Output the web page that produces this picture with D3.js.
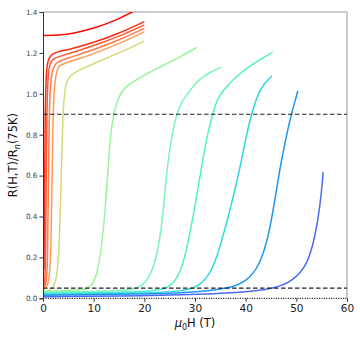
<!DOCTYPE html>
<html><head><meta charset="utf-8">
<script src="https://cdn.jsdelivr.net/npm/d3@7"></script>
<style>body{margin:0;background:#fff}svg{display:block}text{font-family:"DejaVu Sans",sans-serif}</style>
</head><body><svg id="c" width="360" height="340"></svg>
<script>
// ---- data ----
const xTicks = [0, 10, 20, 30, 40, 50, 60];
const yTicks = [0.0, 0.2, 0.4, 0.6, 0.8, 1.0, 1.2, 1.4];
const refLines = [0.9, 0.05];
const curveColors = ["#ff0a00", "#ff2a14", "#ff5530", "#ff7a48", "#ff9a58", "#d6d878",
                     "#98f59a", "#7af5b8", "#50f0c8", "#2ed8e0", "#1e96f0", "#4a6cf5"];
const c0 = [[0,1.285],[3,1.287],[6,1.295],[10,1.32],[14,1.355],[17.6,1.40],[20,1.43]];
const c1 = [[0.2,0.14],[0.3,0.5],[0.4,0.85],[0.55,1.05],[0.8,1.15],[1.4,1.2],[5,1.215],[10,1.25],[15,1.295],[20,1.353]];
const c2 = [[0,0.05],[0.3,0.06],[0.5,0.15],[0.6,0.5],[0.75,0.9],[0.95,1.08],[1.3,1.15],[2.0,1.175],[5,1.195],[10,1.235],[15,1.28],[20,1.337]];
const c3 = [[0,0.05],[0.6,0.06],[0.9,0.15],[1.05,0.5],[1.2,0.9],[1.5,1.07],[2.0,1.13],[2.6,1.155],[5,1.175],[10,1.215],[15,1.263],[20,1.32]];
const c4 = [[0,0.045],[1.0,0.055],[1.5,0.15],[1.75,0.5],[1.95,0.9],[2.3,1.06],[2.8,1.12],[3.2,1.14],[5,1.155],[10,1.195],[15,1.245],[20,1.303]];
const c5 = [[0,0.03],[1.5,0.035],[2.8,0.08],[3.3,0.3],[3.6,0.6],[3.9,0.9],[4.3,1.03],[5,1.09],[8,1.125],[12,1.17],[16,1.21],[20,1.258]];
const c6 = [[0,0.035],[4,0.037],[8,0.042],[9.2,0.05],[10.5,0.1],[11.3,0.2],[12.2,0.4],[12.75,0.6],[13.3,0.8],[13.9,0.9],[15.1,1.0],[16.6,1.043],[19.9,1.09],[23,1.13],[27.1,1.18],[30.3,1.227]];
const c7 = [[0,0.03],[10,0.033],[16,0.038],[19.2,0.05],[21,0.1],[22.5,0.2],[23.7,0.4],[24.3,0.6],[25.5,0.81],[26.4,0.9],[27.3,0.96],[29.1,1.02],[31,1.076],[33,1.105],[35.1,1.13]];
const c8 = [[0,0.025],[15,0.028],[22,0.035],[25,0.05],[27.1,0.12],[28.5,0.25],[30,0.45],[31.2,0.627],[32.4,0.8],[33.5,0.9],[34.3,0.97],[35.6,1.02],[38.3,1.09],[41.6,1.15],[45.3,1.203]];
const c9 = [[0,0.02],[20,0.025],[28,0.035],[31,0.06],[33.6,0.14],[35.5,0.3],[37.3,0.47],[38.8,0.627],[40,0.78],[41.1,0.9],[42.9,1.035],[45.2,1.087]];
const c10 = [[0,0.015],[20,0.02],[30,0.028],[37,0.05],[40,0.08],[42.7,0.155],[44.5,0.3],[45.7,0.47],[46.7,0.627],[47.9,0.78],[49,0.9],[50.3,1.014]];
const c11 = [[0,0.008],[20,0.012],[35,0.022],[42,0.035],[45.8,0.05],[49,0.08],[52.1,0.155],[53.7,0.3],[54.7,0.45],[55.3,0.617]];
const curves = [c0,c1,c2,c3,c4,c5,c6,c7,c8,c9,c10,c11];

// ---- layout ----
const L = 43, R = 347, T = 12, B = 298.3;
const svg = d3.select("#c");
const x = d3.scaleLinear().domain([0, 60]).range([L, R]);
const y = d3.scaleLinear().domain([0, 1.4]).range([B, T]);

svg.append("defs").append("clipPath").attr("id","clip")
  .append("rect").attr("x",L).attr("y",T).attr("width",R-L).attr("height",B-T);

// spines
svg.append("line").attr("x1",L).attr("x2",R).attr("y1",T).attr("y2",T).attr("stroke","#999").attr("stroke-width",1);
svg.append("line").attr("x1",R).attr("x2",R).attr("y1",T).attr("y2",B).attr("stroke","#999").attr("stroke-width",1);

const line = d3.line().x(d => x(d[0])).y(d => y(d[1])).curve(d3.curveBasis);
const g = svg.append("g").attr("clip-path","url(#clip)");
curves.forEach((c,i) => {
  g.append("path").attr("d", line(c)).attr("fill","none")
   .attr("stroke", curveColors[i]).attr("stroke-width",1.5).attr("stroke-linejoin","round");
});

// reference dashed lines
refLines.forEach(v => {
  svg.append("line").attr("x1",L).attr("x2",R).attr("y1",y(v)).attr("y2",y(v))
    .attr("stroke","#222").attr("stroke-width",1.2).attr("stroke-dasharray","4.5,2.5");
});
// dotted zero line
svg.append("line").attr("x1",L).attr("x2",R).attr("y1",y(0)).attr("y2",y(0))
  .attr("stroke","#333").attr("stroke-width",1.2).attr("stroke-dasharray","1.2,1.2");

// axes
const ya = svg.append("g").attr("transform",`translate(${L},0)`)
  .call(d3.axisLeft(y).tickValues(yTicks).tickFormat(d3.format(".1f")).tickSize(3.5).tickPadding(2));
ya.select(".domain").attr("stroke","#333");
ya.selectAll("line").attr("stroke","#333");
ya.selectAll("text").attr("font-size","7.3px").attr("fill","#444").attr("font-family","DejaVu Sans");

const xa = svg.append("g").attr("transform",`translate(0,${B})`)
  .call(d3.axisBottom(x).tickValues(xTicks).tickFormat(d3.format("d")).tickSize(3.5).tickPadding(2.5));
xa.select(".domain").remove();
xa.selectAll("line").attr("stroke","#333");
xa.selectAll("text").attr("font-size","10.5px").attr("fill","#222").attr("font-family","DejaVu Sans");

// axis labels
const xl = svg.append("text").attr("x",(L+R)/2).attr("y",327).attr("text-anchor","middle")
  .attr("font-size","11.5px").attr("fill","#111");
xl.append("tspan").attr("font-style","italic").text("μ");
xl.append("tspan").attr("font-size","8px").attr("dy","2.5").text("0");
xl.append("tspan").attr("dy","-2.5").text("H (T)");

const yl = svg.append("text").attr("transform",`translate(17,${(T+B)/2}) rotate(-90)`)
  .attr("text-anchor","middle").attr("font-size","11.5px").attr("fill","#111");
yl.append("tspan").text("R(H,T)/R");
yl.append("tspan").attr("font-size","8px").attr("font-style","italic").attr("dy","2.5").text("n");
yl.append("tspan").attr("dy","-2.5").text("(75K)");
</script></body></html>
